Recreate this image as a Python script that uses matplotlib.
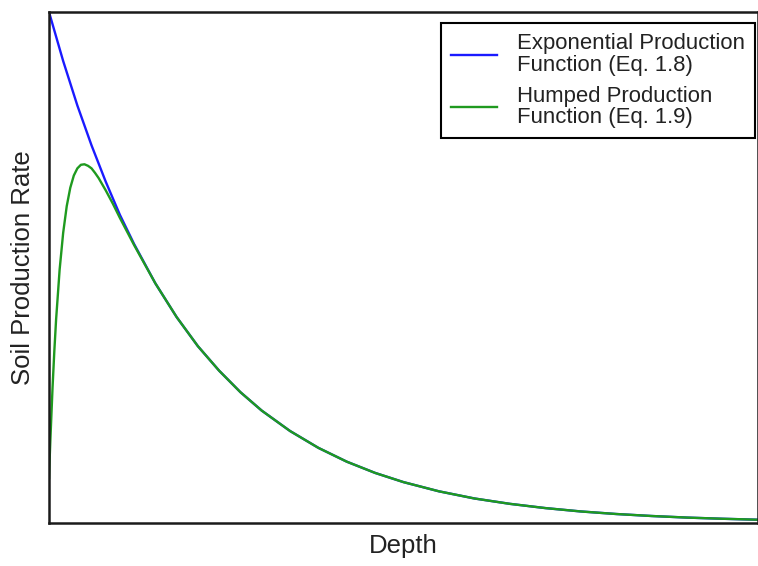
import matplotlib.pyplot as plt

plt.rcParams['font.family'] = ['Liberation Sans', 'DejaVu Sans']

# values (depth and rate both scaled 0..1)
depth_exp = [0.0, 0.02, 0.04, 0.06, 0.08, 0.10, 0.12, 0.15, 0.18, 0.21, 0.24,
             0.27, 0.30, 0.34, 0.38, 0.42, 0.46, 0.50, 0.55, 0.60, 0.65, 0.70,
             0.75, 0.80, 0.85, 0.90, 0.95, 1.00]
rate_exp = [1.000, 0.904, 0.817, 0.739, 0.668, 0.603, 0.546, 0.469, 0.403,
            0.346, 0.298, 0.256, 0.220, 0.180, 0.147, 0.120, 0.098, 0.080,
            0.062, 0.048, 0.0375, 0.0292, 0.0226, 0.0176, 0.0137, 0.0106,
            0.0083, 0.0064]

depth_hump = [0.0, 0.001, 0.002, 0.005, 0.0075, 0.01, 0.015, 0.02, 0.025,
              0.03, 0.035, 0.04, 0.045, 0.05, 0.055, 0.06, 0.065, 0.07, 0.08,
              0.09, 0.10, 0.12, 0.15, 0.18, 0.21, 0.24, 0.27, 0.30, 0.34,
              0.38, 0.42, 0.46, 0.50, 0.55, 0.60, 0.65, 0.70, 0.75, 0.80,
              0.85, 0.90, 0.95, 1.00]
rate_hump = [0.088, 0.128, 0.165, 0.265, 0.336, 0.398, 0.496, 0.568, 0.620,
             0.656, 0.680, 0.694, 0.701, 0.702, 0.699, 0.694, 0.685, 0.675,
             0.651, 0.625, 0.597, 0.544, 0.469, 0.403, 0.346, 0.298, 0.256,
             0.220, 0.180, 0.147, 0.120, 0.098, 0.080, 0.062, 0.048, 0.0375,
             0.0292, 0.0226, 0.0176, 0.0137, 0.0106, 0.0083, 0.0064]

labels = ['Exponential Production\nFunction (Eq. 1.8)',
          'Humped Production\nFunction (Eq. 1.9)']

fig = plt.figure(figsize=(7.58, 5.66), dpi=100)
ax = fig.add_axes([49/758, 43/566, 709/758, 511/566])

ax.plot(depth_exp, rate_exp, color='#1a1aff', lw=1.7, label=labels[0])
ax.plot(depth_hump, rate_hump, color='#1f9a1f', lw=1.7, label=labels[1])

ax.set_xlim(0, 1)
ax.set_ylim(0, 1)
ax.set_xticks([])
ax.set_yticks([])
for s in ax.spines.values():
    s.set_linewidth(1.8)
    s.set_color('#1a1a1a')

ax.set_xlabel('Depth', fontsize=18.5, labelpad=8, color='#222222')
ax.set_ylabel('Soil Production Rate', fontsize=18.5, labelpad=10, color='#222222')

leg = fig.legend(loc='upper right', bbox_to_anchor=(755/758, 1 - 23/566),
                 bbox_transform=fig.transFigure, borderaxespad=0,
                 fontsize=15.9, fancybox=False, framealpha=1,
                 edgecolor='black', handlelength=2.1, handletextpad=0.9,
                 labelspacing=0.45, borderpad=0.45)
leg.get_frame().set_linewidth(1.5)
for t in leg.get_texts():
    t.set_linespacing(1.05)
    t.set_color('#222222')

fig.savefig('out.png', dpi=100)
